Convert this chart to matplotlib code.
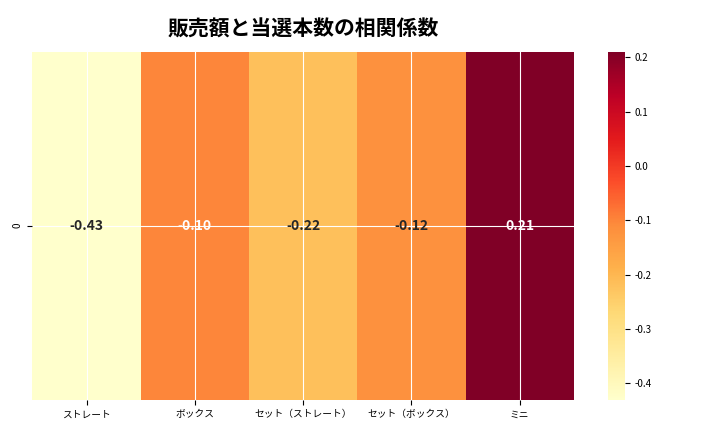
import matplotlib
matplotlib.use('Agg')
import matplotlib.pyplot as plt
import seaborn as sns
import pandas as pd

plt.rcParams['font.family'] = 'Noto Sans CJK JP'
plt.rcParams['axes.unicode_minus'] = False

categories = ['ストレート', 'ボックス', 'セット（ストレート）', 'セット（ボックス）', 'ミニ']
corr_values = [-0.43, -0.10, -0.22, -0.12, 0.21]

df = pd.DataFrame([corr_values], columns=categories)

fig, ax = plt.subplots(figsize=(7.2, 4.32), dpi=100)
sns.heatmap(df, annot=True, fmt='.2f', cmap='YlOrRd', ax=ax,
            annot_kws={'fontsize': 10, 'fontweight': 'bold'})
ax.grid(True, color='white', linewidth=0.8)
ax.set_axisbelow(False)
ax.set_title('販売額と当選本数の相関係数', fontsize=15, fontweight='bold', pad=12)
ax.tick_params(labelsize=7)
plt.xticks(rotation=0)
cbar = ax.collections[0].colorbar
cbar.ax.tick_params(labelsize=7)
plt.subplots_adjust(left=0.045, right=0.985, top=0.88, bottom=0.075)
plt.savefig('out.png', dpi=100)
